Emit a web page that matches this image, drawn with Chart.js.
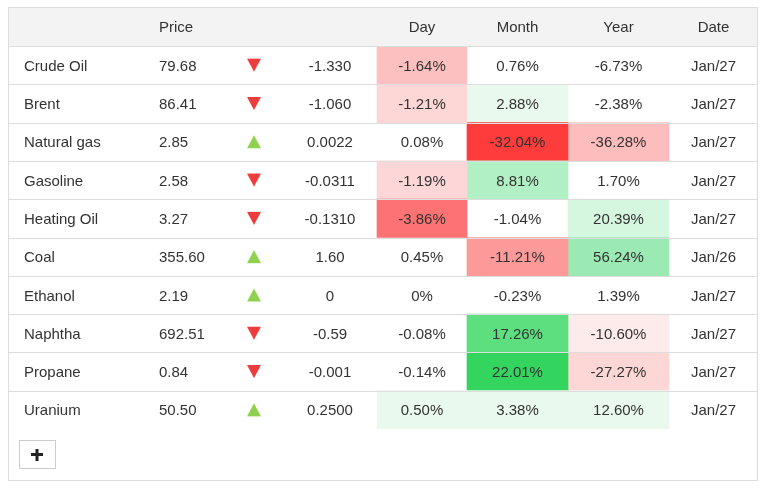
<!DOCTYPE html>
<html>
<head>
<meta charset="utf-8">
<script src="https://cdn.jsdelivr.net/npm/chart.js@4.4.1/dist/chart.umd.min.js"></script>
<style>
  html, body { margin: 0; padding: 0; background: #fff; }
</style>
</head>
<body>
<canvas id="commodities" width="767" height="489"></canvas>
<script>
// table data
const commodities = ['Crude Oil', 'Brent', 'Natural gas', 'Gasoline', 'Heating Oil', 'Coal', 'Ethanol', 'Naphtha', 'Propane', 'Uranium'];
const prices = ['79.68', '86.41', '2.85', '2.58', '3.27', '355.60', '2.19', '692.51', '0.84', '50.50'];
const changes = ['-1.330', '-1.060', '0.0022', '-0.0311', '-0.1310', '1.60', '0', '-0.59', '-0.001', '0.2500'];
const dayPct = [-1.64, -1.21, 0.08, -1.19, -3.86, 0.45, 0, -0.08, -0.14, 0.50];
const monthPct = [0.76, 2.88, -32.04, 8.81, -1.04, -11.21, -0.23, 17.26, 22.01, 3.38];
const yearPct = [-6.73, -2.38, -36.28, 1.70, 20.39, 56.24, 1.39, -10.60, -27.27, 12.60];
const dates = ['Jan/27', 'Jan/27', 'Jan/27', 'Jan/27', 'Jan/27', 'Jan/26', 'Jan/27', 'Jan/27', 'Jan/27', 'Jan/27'];
const headers = ['', 'Price', '', '', 'Day', 'Month', 'Year', 'Date'];

// heat colours of the cells (null = no fill)
const dayColors = ['#fdc0c0', '#fdd6d6', null, '#fdd7d7', '#fd7272', null, null, null, null, '#eaf9ee'];
const monthColors = [null, '#eaf9ee', '#fe3c3c', '#b1efc4', null, '#fc9a9a', null, '#5ddf7f', '#34d55f', '#eaf9ee'];
const yearColors = [null, null, '#fdbdbd', null, '#d5f6df', '#9be9b3', null, '#fdeaea', '#fdd6d6', '#eaf9ee'];

// column layout in table units (x scale runs 0..750)
const cols = {
    name: { left: 16 },
    price: { left: 151 },
    arrow: { center: 246 },
    change: { center: 322 },
    day: { from: 369, to: 459 },
    month: { from: 459, to: 560 },
    year: { from: 560, to: 661 },
    date: { from: 661, to: 750 }
};

const FONT = '15px "Liberation Sans", Arial, sans-serif';
const TEXT = '#333333';
const LINE = '#dddddd';

function pct(v) {
    return v === 0 ? '0%' : v.toFixed(2) + '%';
}

function fill(c) {
    return c || 'rgba(0,0,0,0)';
}

function cellBars(col, colors, label) {
    return {
        type: 'bar',
        label: label,
        data: commodities.map(() => [col.from, col.to]),
        backgroundColor: colors.map(fill),
        barPercentage: 1,
        categoryPercentage: 1,
        grouped: false,
        order: 2
    };
}

// small triangle images, centred in their box so up/down sit at the same height
function arrowImage(isUp, color) {
    const c = document.createElement('canvas');
    c.width = 16;
    c.height = 15;
    const g = c.getContext('2d');
    g.fillStyle = color;
    g.beginPath();
    if (isUp) {
        g.moveTo(8, 1);
        g.lineTo(15, 14);
        g.lineTo(1, 14);
    } else {
        g.moveTo(1, 1);
        g.lineTo(15, 1);
        g.lineTo(8, 14);
    }
    g.closePath();
    g.fill();
    return c;
}

const upArrow = arrowImage(true, '#8fd14f');
const downArrow = arrowImage(false, '#ee3b3b');
const up = changes.map(c => parseFloat(c) >= 0);

const tablePlugin = {
    id: 'tableText',
    beforeDatasetsDraw(chart) {
        const ctx = chart.ctx;
        const area = chart.chartArea;
        ctx.save();
        // header background
        ctx.fillStyle = '#f3f3f3';
        ctx.fillRect(area.left, 8, area.right - area.left, area.top - 8);
        ctx.restore();
    },
    afterDatasetsDraw(chart) {
        const ctx = chart.ctx;
        const area = chart.chartArea;
        const x = chart.scales.x;
        const y = chart.scales.y;
        const rowH = y.getPixelForValue(1) - y.getPixelForValue(0);

        ctx.save();
        // row separators
        ctx.strokeStyle = LINE;
        ctx.lineWidth = 1;
        for (let i = 0; i < commodities.length; i++) {
            const yy = Math.round(y.getPixelForValue(i) - rowH / 2) + 0.5;
            ctx.beginPath();
            ctx.moveTo(area.left, yy);
            ctx.lineTo(area.right, yy);
            ctx.stroke();
        }
        // outer border
        ctx.strokeRect(8.5, 7.5, area.right - area.left - 1, 473);

        ctx.font = FONT;
        ctx.fillStyle = TEXT;
        ctx.textBaseline = 'middle';

        // header
        const hy = (8 + area.top) / 2 + 1;
        ctx.textAlign = 'left';
        ctx.fillText(headers[1], x.getPixelForValue(cols.price.left), hy);
        ctx.textAlign = 'center';
        [cols.day, cols.month, cols.year, cols.date].forEach((c, k) => {
            ctx.fillText(headers[4 + k], x.getPixelForValue((c.from + c.to) / 2), hy);
        });

        // body
        commodities.forEach((name, i) => {
            const py = y.getPixelForValue(i) + 1.5;
            ctx.textAlign = 'left';
            ctx.fillText(name, x.getPixelForValue(cols.name.left), py);
            ctx.fillText(prices[i], x.getPixelForValue(cols.price.left), py);
            ctx.textAlign = 'center';
            ctx.fillText(changes[i], x.getPixelForValue(cols.change.center), py);
            ctx.fillText(pct(dayPct[i]), x.getPixelForValue((cols.day.from + cols.day.to) / 2), py);
            ctx.fillText(pct(monthPct[i]), x.getPixelForValue((cols.month.from + cols.month.to) / 2), py);
            ctx.fillText(pct(yearPct[i]), x.getPixelForValue((cols.year.from + cols.year.to) / 2), py);
            ctx.fillText(dates[i], x.getPixelForValue((cols.date.from + cols.date.to) / 2), py);
        });

        // "+" button
        ctx.strokeStyle = '#cccccc';
        ctx.strokeRect(19.5, 440.5, 36, 28);
        ctx.fillStyle = '#222222';
        ctx.fillRect(31, 453, 12, 3);
        ctx.fillRect(35.5, 449, 3, 12);
        ctx.restore();
    }
};

const ctx = document.getElementById('commodities').getContext('2d');
const chart = new Chart(ctx, {
    type: 'bar',
    data: {
        labels: commodities,
        datasets: [
            cellBars(cols.day, dayColors, 'Day'),
            cellBars(cols.month, monthColors, 'Month'),
            cellBars(cols.year, yearColors, 'Year'),
            {
                type: 'line',
                label: 'Direction',
                data: commodities.map(() => cols.arrow.center),
                showLine: false,
                pointStyle: up.map(u => u ? upArrow : downArrow),
                pointRadius: 8,
                pointHoverRadius: 8,
                pointBorderWidth: 0,
                order: 1
            }
        ]
    },
    options: {
        indexAxis: 'y',
        responsive: false,
        animation: false,
        layout: { padding: { left: 8, right: 9, top: 46, bottom: 60 } },
        plugins: {
            legend: { display: false },
            tooltip: { enabled: false }
        },
        scales: {
            x: { type: 'linear', min: 0, max: 750, display: false },
            y: { type: 'category', offset: true, display: false }
        }
    },
    plugins: [tablePlugin]
});
</script>
</body>
</html>
